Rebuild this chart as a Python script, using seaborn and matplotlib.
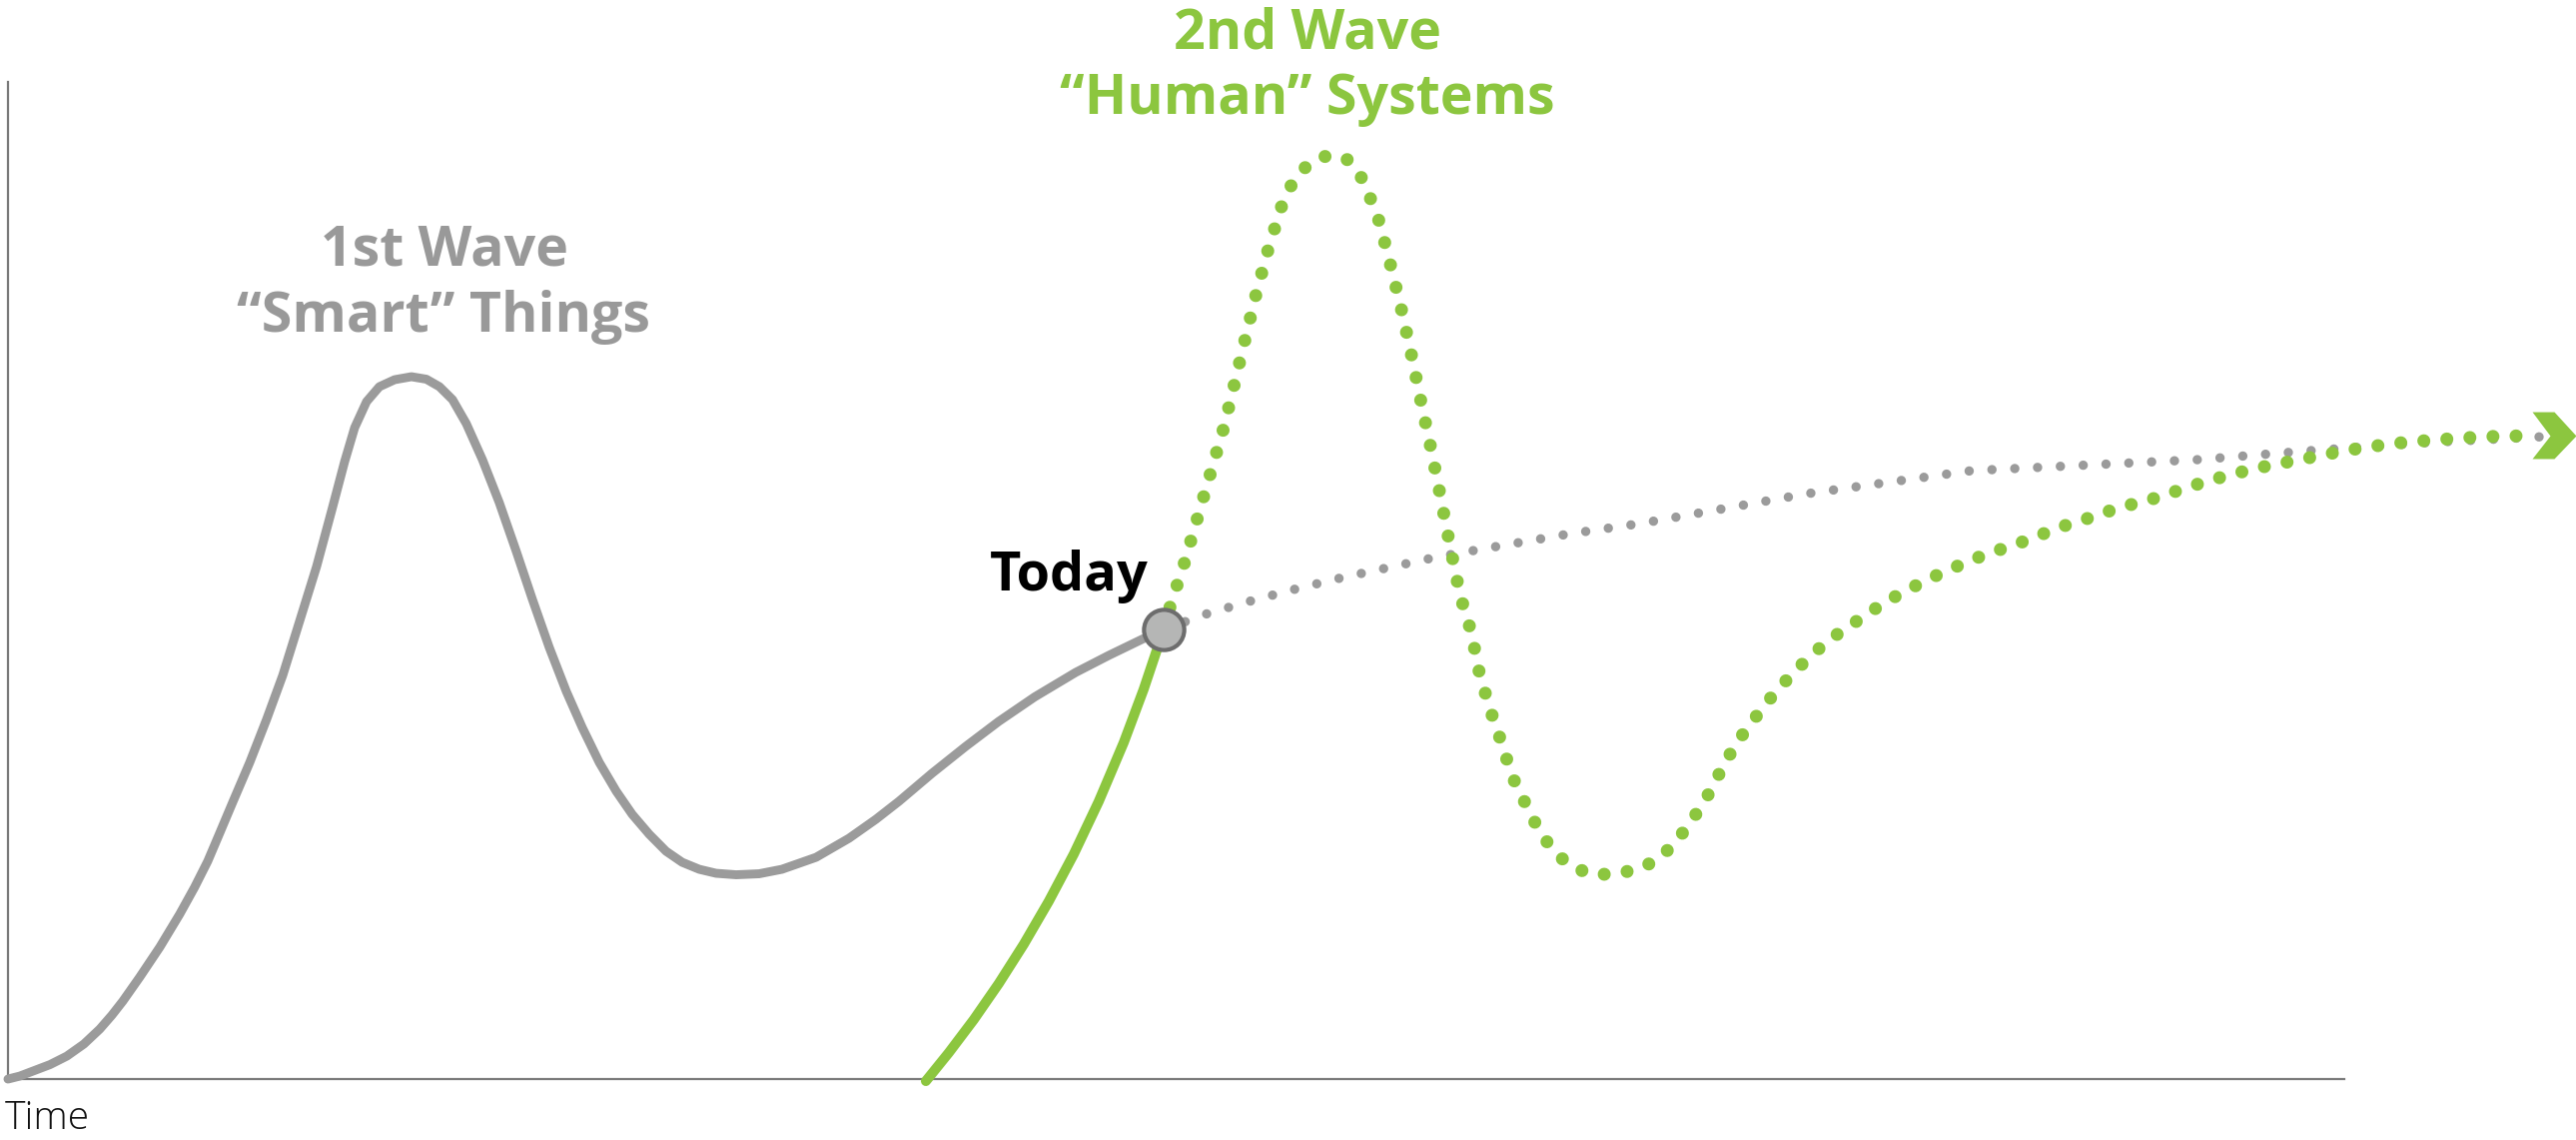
import numpy as np
import pandas as pd
import matplotlib
matplotlib.use("Agg")
import matplotlib.pyplot as plt
from matplotlib.path import Path
import seaborn as sns

# ---------------- data (x: time, y: expectation; axis spans 0..100) ----------------
wave1_x = [0.00, 0.51, 1.07, 1.80, 2.52, 3.25, 3.93, 4.45, 4.92, 5.64, 6.50, 7.35, 7.99,
           8.55, 9.06, 9.62, 10.35, 11.07, 11.76, 12.48, 13.21, 13.89, 14.41, 14.84,
           15.35, 15.90, 16.55, 17.27, 17.91, 18.47, 19.03, 19.62, 20.31, 21.03, 21.76,
           22.45, 23.17, 23.90, 24.58, 25.31, 26.04, 26.72, 27.45, 28.17, 28.86, 29.59,
           30.31, 31.17, 32.15, 33.13, 34.59, 36.00, 37.15, 38.14, 39.55, 41.00, 42.41,
           43.95, 45.70, 47.11, 48.53, 49.47]
wave1_y = [0.00, 0.30, 0.80, 1.45, 2.30, 3.51, 5.01, 6.41, 7.82, 10.22, 13.23, 16.53,
           19.24, 21.84, 24.65, 27.76, 31.76, 36.07, 40.48, 45.89, 51.40, 57.31, 61.92,
           65.33, 67.94, 69.44, 70.14, 70.44, 70.19, 69.44, 68.14, 65.73, 62.12, 57.82,
           52.91, 48.10, 43.29, 38.88, 35.27, 31.76, 28.86, 26.55, 24.55, 22.85, 21.74,
           21.04, 20.64, 20.49, 20.59, 21.04, 22.24, 24.15, 26.05, 27.86, 30.66, 33.37,
           35.87, 38.33, 40.78, 42.48, 44.09, 45.09]

wave1_future_x = [49.47, 51.35, 53.27, 55.20, 57.12, 59.09, 61.05, 62.98, 64.94, 66.91,
                  69.86, 77.04, 84.05, 93.72, 98.59, 103.55, 108.55]
wave1_future_y = [45.09, 46.69, 48.00, 49.20, 50.30, 51.30, 52.30, 53.11, 53.91, 54.71,
                  55.71, 58.72, 61.02, 62.12, 63.03, 63.83, 64.43]

wave2_x = [39.29, 40.27, 41.34, 42.41, 43.48, 44.55, 45.62, 46.69, 47.76, 48.61, 49.47]
wave2_y = [-0.20, 2.64, 5.96, 9.58, 13.52, 17.83, 22.56, 27.85, 33.76, 39.08, 45.09]

wave2_future_x = [49.47, 49.77, 50.36, 50.92, 51.48, 52.03, 52.50, 52.97, 53.44, 53.96,
                  54.55, 54.98, 55.62, 56.52, 57.38, 57.97, 58.36, 58.70, 59.21, 59.68,
                  60.11, 60.50, 60.92, 61.31, 61.69, 62.08, 62.33, 62.63, 63.02, 63.32,
                  63.62, 63.96, 64.26, 64.60, 65.07, 65.50, 66.10, 66.78, 67.72, 68.62,
                  69.60, 70.50, 71.23, 71.87, 72.42, 72.94, 73.36, 73.88, 74.43, 75.03,
                  75.67, 76.36, 77.04, 77.77, 78.58, 79.44, 80.25, 81.10, 82.00, 82.90,
                  83.80, 84.74, 85.68, 86.62, 87.56, 88.54, 89.44, 90.42, 91.32, 94.19,
                  96.15, 98.08, 100.04, 102.01, 103.98, 105.99, 107.95]
wave2_future_y = [45.09, 47.60, 51.80, 56.31, 60.82, 65.23, 69.74, 74.35, 78.86, 83.37,
                  87.78, 89.88, 91.68, 92.69, 92.18, 90.28, 88.08, 85.97, 81.36, 76.85,
                  72.24, 67.74, 63.13, 58.52, 53.91, 49.40, 47.09, 44.89, 40.28, 38.08,
                  35.77, 33.57, 31.26, 29.16, 27.15, 25.05, 23.05, 21.54, 20.54, 20.54,
                  20.94, 21.84, 23.35, 25.25, 27.15, 29.16, 31.16, 33.27, 35.17, 36.97,
                  38.88, 40.58, 42.18, 43.69, 45.09, 46.39, 47.70, 48.80, 49.90, 50.90,
                  51.80, 52.71, 53.41, 54.21, 55.11, 55.91, 56.51, 57.41, 57.82, 60.02,
                  61.22, 62.12, 63.03, 63.73, 64.13, 64.43, 64.53]

today_x = [49.47]
today_y = [45.09]
arrow_x = [108.98]
arrow_y = [64.53]

labels = {
    "wave1": ["1st Wave", "\u201cSmart\u201d Things"],
    "wave2": ["2nd Wave", "\u201cHuman\u201d Systems"],
    "today": "Today",
    "xlabel": "Time",
}

GREEN = "#8cc63f"
GRAY = "#9b9b9b"
GRAY_TXT = "#999999"

# ---------------- style ----------------
sns.set_theme(style="white")
plt.rcParams["font.family"] = ["Open Sans", "DejaVu Sans"]

fig = plt.figure(figsize=(25.79, 11.41), dpi=100)
ax = fig.add_axes([0, 0, 1, 1])
ax.set_xlim(-0.34, 109.92)
ax.set_ylim(-6.11, 108.22)

df1 = pd.DataFrame({"x": wave1_x, "y": wave1_y})
df1f = pd.DataFrame({"x": wave1_future_x, "y": wave1_future_y})
df2 = pd.DataFrame({"x": wave2_x, "y": wave2_y})
df2f = pd.DataFrame({"x": wave2_future_x, "y": wave2_future_y})

sns.lineplot(data=df1, x="x", y="y", ax=ax, color=GRAY, linewidth=6.4, sort=False,
             estimator=None, solid_capstyle="round", solid_joinstyle="round", zorder=3)
sns.lineplot(data=df1f, x="x", y="y", ax=ax, color=GRAY, linewidth=6.8, sort=False,
             estimator=None, linestyle=(0, (0.001, 2.42)), dash_capstyle="round", zorder=3)
sns.lineplot(data=df2, x="x", y="y", ax=ax, color=GREEN, linewidth=7.2, sort=False,
             estimator=None, solid_capstyle="round", solid_joinstyle="round", zorder=4)
sns.lineplot(data=df2f, x="x", y="y", ax=ax, color=GREEN, linewidth=9.4, sort=False,
             estimator=None, linestyle=(0, (0.001, 1.77)), dash_capstyle="round", zorder=4)

# arrow head (chevron marker)
chev = Path([(-22, 24), (0, 24), (22, 0), (0, -23), (-22, -23), (-4, 0), (-22, 24)],
            [Path.MOVETO, Path.LINETO, Path.LINETO, Path.LINETO, Path.LINETO, Path.LINETO,
             Path.CLOSEPOLY])
ax.plot(arrow_x, arrow_y, marker=chev, markersize=34.5, color=GREEN,
        markeredgewidth=0, linestyle="none", zorder=5)

# today marker
ax.plot(today_x, today_y, marker="o", markersize=29, markerfacecolor="#b5b6b5",
        markeredgecolor="#6d6d6d", markeredgewidth=3, linestyle="none", zorder=6)

# axes
for s in ["top", "right"]:
    ax.spines[s].set_visible(False)
ax.spines["left"].set_position(("data", 0))
ax.spines["bottom"].set_position(("data", 0))
ax.spines["left"].set_bounds(0, 100)
ax.spines["bottom"].set_bounds(0, 100)
for s in ["left", "bottom"]:
    ax.spines[s].set_color("#7a7a7a")
    ax.spines[s].set_linewidth(1.6)
ax.set_xticks([])
ax.set_yticks([])
ax.set_xlabel("")
ax.set_ylabel("")

# texts
ax.text(18.68, 81.66, labels["wave1"][0], ha="center", va="baseline", fontsize=40,
        fontweight="bold", color=GRAY_TXT)
ax.text(18.64, 74.95, labels["wave1"][1], ha="center", va="baseline", fontsize=40,
        fontweight="bold", color=GRAY_TXT)
ax.text(55.62, 103.41, labels["wave2"][0], ha="center", va="baseline", fontsize=40,
        fontweight="bold", color=GREEN)
ax.text(55.62, 96.79, labels["wave2"][1], ha="center", va="baseline", fontsize=40,
        fontweight="bold", color=GREEN)
ax.text(48.82, 49.0, labels["today"], ha="right", va="baseline", fontsize=39,
        fontweight="bold", color="#000000")
ax.text(-0.13, -5.02, labels["xlabel"], ha="left", va="baseline", fontsize=28,
        fontweight="light", color="#111111")

fig.savefig("out.png", dpi=100)
